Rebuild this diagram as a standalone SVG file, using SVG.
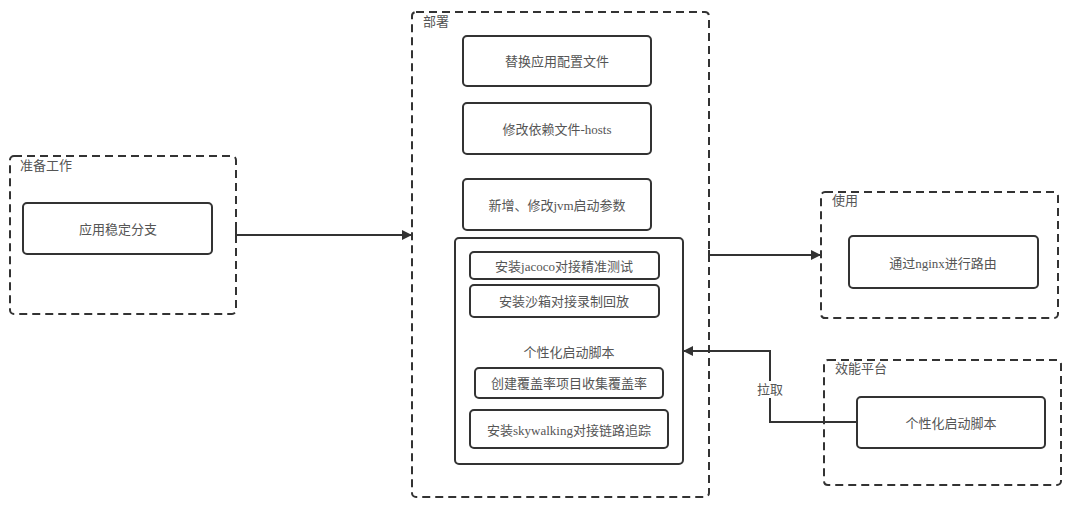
<svg xmlns="http://www.w3.org/2000/svg" width="1080" height="505" viewBox="0 0 1080 505">
<style>
.grp{fill:none;stroke:#333;stroke-width:2;stroke-dasharray:8,5}
.box{fill:#fff;stroke:#333;stroke-width:2}
.t{font-family:"Liberation Serif","Noto Sans CJK SC",serif;font-size:13px;fill:#555;text-anchor:middle;dominant-baseline:central}
.ti{font-family:"Liberation Serif","Noto Sans CJK SC",serif;font-size:13px;fill:#555}
.ln{fill:none;stroke:#333;stroke-width:2}
</style>
<defs>
<marker id="ah" markerWidth="10" markerHeight="10" refX="9" refY="5" orient="auto" markerUnits="userSpaceOnUse">
<path d="M0,0 L10,5 L0,10 Z" fill="#333"/>
</marker>
</defs>
<rect width="1080" height="505" fill="#fff"/>
<g id="prep">
<rect class="grp" x="10" y="156" width="226" height="158" rx="4"/>
<text class="ti" x="20" y="170">准备工作</text>
</g>
<g id="branch">
<rect class="box" x="23" y="203" width="189" height="51" rx="4"/>
<text class="t" x="118" y="229">应用稳定分支</text>
</g>
<g id="deploy">
<rect class="grp" x="412" y="12" width="297" height="485" rx="4"/>
<text class="ti" x="423" y="26">部署</text>
</g>
<g id="replace">
<rect class="box" x="463" y="36" width="188" height="50" rx="4"/>
<text class="t" x="557" y="61">替换应用配置文件</text>
</g>
<g id="hosts">
<rect class="box" x="463" y="103" width="188" height="51" rx="4"/>
<text class="t" x="557" y="129">修改依赖文件-hosts</text>
</g>
<g id="jvm">
<rect class="box" x="463" y="179" width="188" height="51" rx="4"/>
<text class="t" x="557" y="205">新增、修改jvm启动参数</text>
</g>
<g id="script">
<rect class="box" x="455" y="238" width="228" height="226" rx="4"/>
<text class="t" x="569" y="352">个性化启动脚本</text>
</g>
<g id="jacoco">
<rect class="box" x="470" y="252" width="189" height="27" rx="4"/>
<text class="t" x="564" y="266">安装jacoco对接精准测试</text>
</g>
<g id="sandbox">
<rect class="box" x="470" y="285" width="189" height="32" rx="4"/>
<text class="t" x="564" y="301">安装沙箱对接录制回放</text>
</g>
<g id="coverage">
<rect class="box" x="475" y="368" width="188" height="30" rx="4"/>
<text class="t" x="569" y="383">创建覆盖率项目收集覆盖率</text>
</g>
<g id="skywalking">
<rect class="box" x="470" y="410" width="198" height="38" rx="4"/>
<text class="t" x="569" y="430">安装skywalking对接链路追踪</text>
</g>
<g id="use">
<rect class="grp" x="821" y="192" width="237" height="126" rx="4"/>
<text class="ti" x="832" y="205">使用</text>
</g>
<g id="nginx">
<rect class="box" x="849" y="236" width="189" height="52" rx="4"/>
<text class="t" x="943" y="263">通过nginx进行路由</text>
</g>
<g id="platform">
<rect class="grp" x="824" y="360" width="237" height="125" rx="4"/>
<text class="ti" x="835" y="373">效能平台</text>
</g>
<g id="pscript">
<rect class="box" x="857" y="397" width="188" height="51" rx="4"/>
<text class="t" x="951" y="423">个性化启动脚本</text>
</g>
<g id="connectors">
<line class="ln" x1="236" y1="235" x2="411" y2="235" marker-end="url(#ah)"/>
<line class="ln" x1="236" y1="230" x2="236" y2="240"/>
<line class="ln" x1="709" y1="255" x2="820" y2="255" marker-end="url(#ah)"/>
<line class="ln" x1="709" y1="250" x2="709" y2="260"/>
<polyline class="ln" points="857,422 770,422 770,351 684,351" marker-end="url(#ah)"/>
<rect x="756" y="381" width="28" height="17" fill="#fff"/>
<text class="t" x="770" y="389">拉取</text>
</g>
</svg>
